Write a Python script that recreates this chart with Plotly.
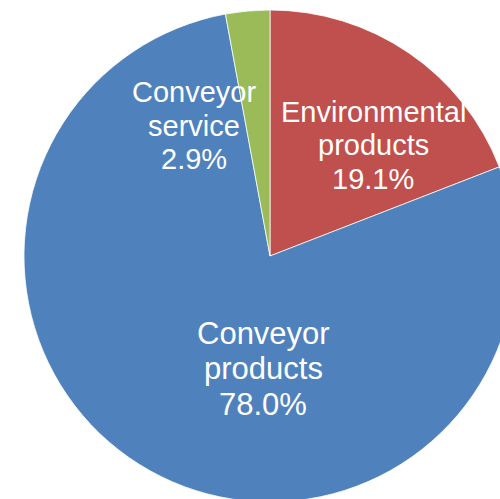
import plotly.graph_objects as go

# Revenue split by segment
categories = ["Environmental products", "Conveyor products", "Conveyor service"]
values = [19.1, 78.0, 2.9]
colors = ["#C0504D", "#4F81BD", "#9BBB59"]

# Canvas is a little larger than the visible window so the pie bleeds off the right/bottom edges
W, H = 540, 520
CX, CY, R = 270, 256, 246

FONT = "Arial, 'Liberation Sans', sans-serif"

fig = go.Figure(
    go.Pie(
        labels=categories,
        values=values,
        sort=False,
        direction="clockwise",
        rotation=0,
        marker=dict(colors=colors, line=dict(color="white", width=0.75)),
        textinfo="none",
        hoverinfo="label+percent",
        showlegend=False,
        domain=dict(
            x=[(CX - R) / W, (CX + R) / W],
            y=[1 - (CY + R) / H, 1 - (CY - R) / H],
        ),
    )
)

# Data-label placement: centre x, first-line baseline (canvas px), font size, line step
label_style = {
    "Environmental products": (373, 121.5, 29, 33.5),
    "Conveyor products": (263, 343.5, 31, 35.5),
    "Conveyor service": (194, 102, 29, 33.5),
}

total = sum(values)
annotations = []
for name, val in zip(categories, values):
    lines = name.split(" ") + [f"{val / total * 100:.1f}%"]
    x0, b0, fs, step = label_style[name]
    for i, line in enumerate(lines):
        baseline = b0 + i * step
        mid = baseline - 0.33 * fs
        annotations.append(
            dict(
                x=x0 / W,
                y=1 - mid / H,
                xref="paper",
                yref="paper",
                text=line,
                showarrow=False,
                xanchor="center",
                yanchor="middle",
                font=dict(family=FONT, size=fs, color="white"),
            )
        )

fig.update_layout(
    width=W,
    height=H,
    margin=dict(l=0, r=0, t=0, b=0),
    paper_bgcolor="white",
    plot_bgcolor="white",
    annotations=annotations,
)

fig.write_html(
    "out.html",
    config={"displayModeBar": False},
    post_script="document.body.style.margin='0';document.body.style.overflow='hidden';",
)
